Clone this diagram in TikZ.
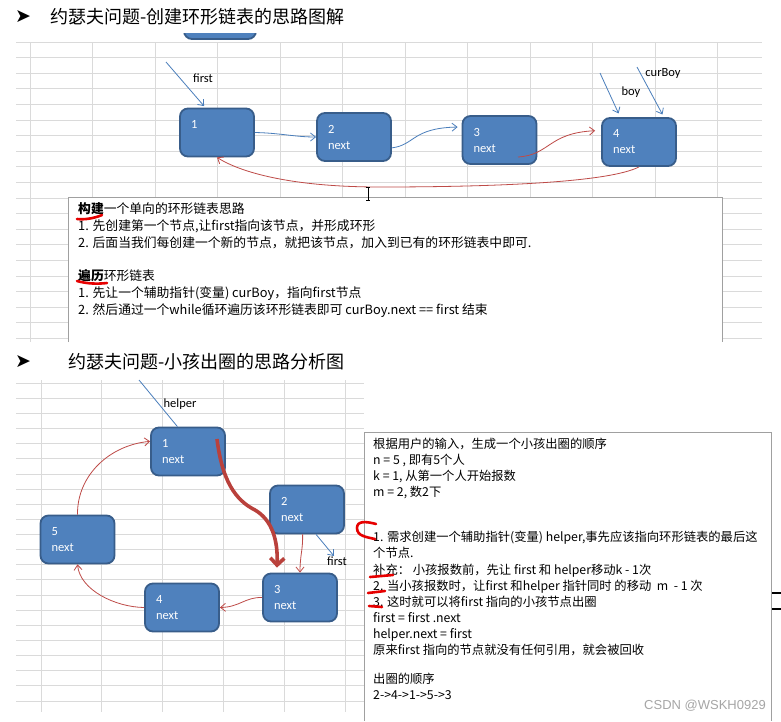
\documentclass[tikz,border=0pt]{standalone}
\usepackage{fontspec}
\setmainfont{Carlito}
\newfontfamily\cjkfont{Noto Sans CJK SC}
\newfontfamily\dingfont{DejaVu Sans}
\newfontfamily\markfont{Liberation Sans}
\usetikzlibrary{arrows.meta}

\definecolor{gridgray}{RGB}{218,218,218}
\definecolor{nodefill}{RGB}{79,129,189}
\definecolor{nodeline}{RGB}{56,93,138}
\definecolor{linkblue}{RGB}{74,126,187}
\definecolor{linkred}{RGB}{190,75,72}
\definecolor{thickred}{RGB}{185,65,60}
\definecolor{penred}{RGB}{230,0,0}
\definecolor{boxgray}{RGB}{160,160,160}

\begin{document}
\begin{tikzpicture}[x=1pt,y=-1pt,font=\fontsize{12.5}{16}\selectfont]

		% Styles
		\tikzstyle{grid line}=[gridgray,line width=0.7pt]
		\tikzstyle{text box}=[boxgray,line width=0.8pt]
		\tikzstyle{boy node}=[draw=nodeline,fill=nodefill,line width=1.8pt,rounded corners=8pt,minimum width=74pt,minimum height=48pt,inner sep=0pt,text=white,text width=52pt,align=left]
		\tikzstyle{title}=[anchor=west,inner sep=0pt,font=\cjkfont\fontsize{18}{20}\selectfont]
		\tikzstyle{bullet}=[anchor=west,inner sep=0pt,font=\dingfont\fontsize{19}{20}\selectfont]
		\tikzstyle{note}=[anchor=base west,inner sep=0pt,font=\cjkfont\fontsize{12.3}{16}\selectfont]
		\tikzstyle{wide note}=[note,font=\cjkfont\fontsize{12.8}{16}\selectfont]
		\tikzstyle{pointer}=[inner sep=0pt]
		\tikzstyle{blue link}=[linkblue,line width=0.8pt,-{Straight Barb[length=5pt,width=8pt]}]
		\tikzstyle{red link}=[linkred,line width=0.8pt,-{Straight Barb[length=5pt,width=8pt]}]
		\tikzstyle{pen mark}=[penred,line width=2.6pt,line cap=round,line join=round]

		\fill[white] (0,0) rectangle (781,721);
		\useasboundingbox (0,0) rectangle (781,721);

		% Sheet grid, upper part
		\foreach \j in {0,...,19}
			\draw[grid line] (16,{42+15.6*\j}) -- (762,{42+15.6*\j});
		\foreach \i in {0,...,11}
			\draw[grid line] ({30+62.5*\i},42) -- ({30+62.5*\i},342);
		% Sheet grid, lower part
		\foreach \j in {0,...,21}
			\draw[grid line] (16,{383+15.14*\j}) -- (364,{383+15.14*\j});
		\foreach \i in {0,...,5}
			\draw[grid line] ({41+60.8*\i},380) -- ({41+60.8*\i},712);

		% Titles
		\node[bullet] (b top) at (15,17) {➤};
		\node[title] (title top) at (50,17) {约瑟夫问题-创建环形链表的思路图解};
		\node[bullet] (b bottom) at (15,362) {➤};
		\node[title] (title bottom) at (68,362) {约瑟夫问题-小孩出圈的思路分析图};

		% Piece of a node cut off at the top
		\begin{scope}
			\clip (178,33) rectangle (262,42);
			\draw[draw=nodeline,fill=nodefill,line width=1.8pt,rounded corners=8pt] (184,0) rectangle (256,39);
		\end{scope}

		% Text boxes
		\fill[white] (68,197) rectangle (722,342);
		\draw[text box] (68,342) -- (68,197) -- (722,197) -- (722,342);
		\fill[white] (364,432) rectangle (771,721);
		\draw[text box] (364,721) -- (364,432) -- (771,432) -- (771,721);

		% Upper ring: the boys
		\node[boy node] (t1) at (217,132.5) {1\\\mbox{}};
		\node[boy node] (t2) at (354,137) {2\\next};
		\node[boy node] (t3) at (499.5,140) {3\\next};
		\node[boy node] (t4) at (639,142) {4\\next};

		% Pointers
		\coordinate (first tail) at (166,62);
		\coordinate (boy tail) at (600,73);
		\coordinate (curboy tail) at (637,67);
		\coordinate (t3 tail) at (518,157);
		\node[pointer] (first label) at (203,78) {first};
		\node[pointer] (boy label) at (631,92) {boy};
		\node[pointer] (curboy label) at (663,73) {curBoy};
		\draw[blue link,shorten >=2pt] (first tail) -- (t1.115);
		\draw[blue link,shorten >=4pt] (boy tail) -- (t4.127);
		\draw[blue link,shorten >=3pt] (curboy tail) -- (t4.45);

		% Links
		\draw[blue link] (t1.east) .. controls (280,133) and (295,137) .. (t2.west);
		\draw[blue link,shorten >=4pt] (t2.-16) .. controls (415,145) and (412,128) .. (t3.161);
		\draw[red link,shorten >=6pt] (t3 tail) .. controls (550,155) and (548,133) .. (t4.163);
		\draw[red link] (t4.south) .. controls (610,182) and (500,187) .. (380,187)
			.. controls (290,187) and (240,172) .. (t1.south);

		% Mouse cursor
		\draw[black,line width=0.6pt] (368,187) -- (368,200) (366,187) -- (370,187) (366,200) -- (370,200);

		% Notes of the upper box
		\node[wide note] (u1) at (78,213.7) {{\bfseries 构建}一个单向的环形链表思路};
		\node[wide note] (u2) at (78,230.7) {1. 先创建第一个节点,让first指向该节点，并形成环形};
		\node[wide note] (u3) at (78,247.7) {2. 后面当我们每创建一个新的节点，就把该节点，加入到已有的环形链表中即可.};
		\node[wide note] (u4) at (78,280.7) {{\bfseries 遍历}环形链表};
		\node[wide note] (u5) at (78,297.7) {1. 先让一个辅助指针(变量) curBoy，指向first节点};
		\node[wide note] (u6) at (78,314.7) {2. 然后通过一个while循环遍历该环形链表即可 curBoy.next == first 结束};

		% Lower ring: the children
		\node[boy node] (b1) at (188,451.5) {1\\next};
		\node[boy node] (b2) at (307,509.5) {2\\next};
		\node[boy node] (b3) at (300,597.5) {3\\next};
		\node[boy node] (b4) at (182,607.5) {4\\next};
		\node[boy node] (b5) at (77.5,539.5) {5\\next};

		% Pointers
		\coordinate (helper tail) at (139,380);
		\coordinate (b1 tail) at (217,439);
		\coordinate (first head) at (334,556);
		\node[pointer] (helper label) at (180,404) {helper};
		\node[pointer] (first label2) at (337,561) {first};
		\draw[linkblue,line width=0.8pt] (helper tail) -- (b1.113);
		\draw[blue link] (b2.-70) -- (first head);

		% Links
		\draw[red link] (b2.-100) .. controls (303,550) and (300,555) .. (b3.north);
		\draw[red link] (b3.west) .. controls (245,597) and (240,607) .. (b4.east);
		\draw[red link] (b4.west) .. controls (115,607) and (80,590) .. (b5.south);
		\draw[red link] (b5.north) .. controls (77,475) and (110,445) .. (b1.165);
		\draw[thickred,line width=3.6pt,-{Straight Barb[length=7pt,width=14pt]},shorten >=5pt]
			(b1 tail) .. controls (222,480) and (235,500) .. (255,510)
			.. controls (272,520) and (278,540) .. (b3.133);

		% Notes of the lower box
		\node[note] (d1) at (373,448.5) {根据用户的输入，生成一个小孩出圈的顺序};
		\node[note] (d2) at (373,464.5) {n = 5 , 即有5个人};
		\node[note] (d3) at (373,480.5) {k = 1, 从第一个人开始报数};
		\node[note] (d4) at (373,496.5) {m = 2, 数2下};
		\node[note] (d5) at (373,541.5) {1. 需求创建一个辅助指针(变量) helper,事先应该指向环形链表的最后这};
		\node[note] (d6) at (373,557.5) {个节点.};
		\node[note] (d7) at (373,574.5) {补充： 小孩报数前，先让 first 和 helper移动k - 1次};
		\node[note] (d8) at (373,590.5) {2. 当小孩报数时，让first 和helper 指针同时 的移动 \ m \ - 1 次};
		\node[note] (d9) at (373,606.5) {3. 这时就可以将first 指向的小孩节点出圈};
		\node[note] (d10) at (373,622.5) {first = first .next};
		\node[note] (d11) at (373,638.5) {helper.next = first};
		\node[note] (d12) at (373,654.5) {原来first 指向的节点就没有任何引用，就会被回收};
		\node[note] (d13) at (373,683.5) {出圈的顺序};
		\node[note] (d14) at (373,699.5) {2->4->1->5->3};

		% Red pen marks
		\draw[pen mark] (77,219) .. controls (85,220) and (95,218) .. (102,215);
		\draw[pen mark] (77,281) .. controls (88,284) and (98,284) .. (107,283);
		\draw[pen mark] (376,524) .. controls (365,521) and (357,521) .. (357,528)
			.. controls (357,536) and (366,537) .. (375,539);
		\draw[pen mark] (370,577) -- (393,575);
		\draw[pen mark] (368,593) -- (385,591);
		\draw[pen mark] (369,606) -- (382,607);

		% Ticks beside the lower box
		\draw[black,line width=1.5pt] (772,593) -- (781,593) (772,609) -- (781,609);

		% Watermark
		\node[anchor=east,inner sep=0pt,text=black!35,font=\markfont\fontsize{13}{15}\selectfont] (csdn) at (766,706) {CSDN @WSKH0929};
\end{tikzpicture}
\end{document}
